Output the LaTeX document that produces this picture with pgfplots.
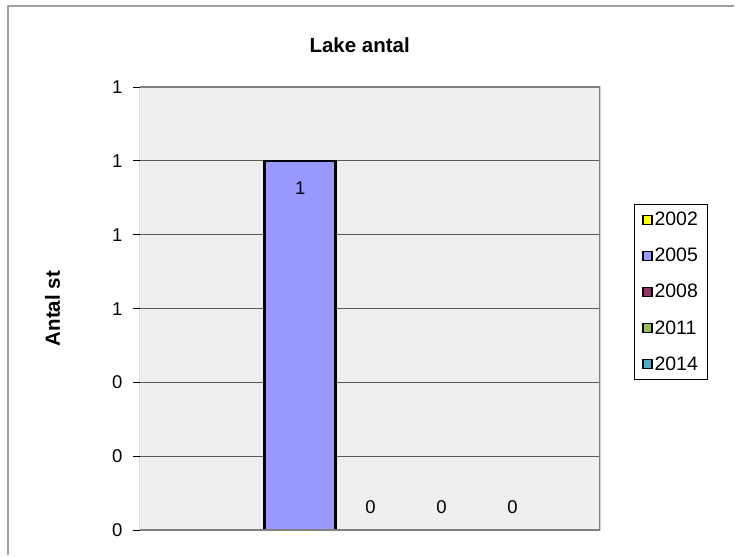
\documentclass[border=0pt]{standalone}
\usepackage{fontspec}
\setmainfont{Liberation Sans}
\usepackage{pgfplots}
\pgfplotsset{compat=1.18}
\definecolor{c2002}{HTML}{FFFF00}
\definecolor{c2005}{HTML}{9999FF}
\definecolor{c2008}{HTML}{993366}
\definecolor{c2011}{HTML}{9BBB59}
\definecolor{c2014}{HTML}{4BACC6}
\definecolor{plotbg}{HTML}{EFEFEF}
\definecolor{frame}{HTML}{A0A0A0}
\begin{document}
\begin{tikzpicture}[x=1pt,y=1pt]
\path[fill=white] (0,0) rectangle (735,556);
\draw[frame, line width=1.5pt] (8,0) -- (8,550) -- (735,550);
\node[font=\bfseries\fontsize{20.5}{24}\selectfont, anchor=base] at (360,503) {Lake antal};
\node[font=\bfseries\fontsize{20.5}{24}\selectfont, rotate=90] at (52.5,247) {Antal st};
\begin{axis}[
  at={(140pt,25pt)}, anchor=south west,
  scale only axis, width=461pt, height=444pt,
  xmin=140, xmax=601, ymin=0, ymax=1.2,
  ytick={0,0.2,0.4,0.6,0.8,1.0,1.2},
  yticklabels={0,0,0,1,1,1,1},
  xtick=\empty, ytick pos=left,
  /pgf/number format/assume math mode=true,
  ticklabel style={font=\fontsize{18.5}{21}\selectfont},
  yticklabel style={xshift=-7pt},
  tick align=outside, major tick length=7pt,
  tick style={black, line width=0.8pt},
  ymajorgrids, grid style={draw=black!65, line width=0.8pt},
  axis background/.style={fill=plotbg},
  axis line style={draw=none},
  legend image code/.code={\draw[#1,draw=black,line width=1.2pt] (0pt,-4.5pt) rectangle (9pt,4.5pt);},
  legend style={at={(1.2343,0.7365)}, anchor=north east, draw=black, line width=0.8pt,
    fill=white, font=\fontsize{19.5}{22}\selectfont, row sep=17pt, inner xsep=8pt, inner ysep=6pt,
    cells={anchor=west}},
]
\addlegendimage{fill=c2002}\addlegendentry{2002}
\addlegendimage{fill=c2005}\addlegendentry{2005}
\addlegendimage{fill=c2008}\addlegendentry{2008}
\addlegendimage{fill=c2011}\addlegendentry{2011}
\addlegendimage{fill=c2014}\addlegendentry{2014}
\addplot[forget plot, ybar, bar width=71, bar shift=0pt, fill=c2005, draw=black, line width=2.5pt,
  nodes near coords, every node near coord/.append style={anchor=center, yshift=-27pt, text=black, font=\fontsize{18.5}{21}\selectfont}]
  coordinates {(300.5,1)};
\addplot[forget plot, ybar, bar width=71, bar shift=0pt, fill=c2008, draw=none,
  nodes near coords, every node near coord/.append style={anchor=center, yshift=23pt, text=black, font=\fontsize{18.5}{21}\selectfont}]
  coordinates {(371,0)};
\addplot[forget plot, ybar, bar width=71, bar shift=0pt, fill=c2011, draw=none,
  nodes near coords, every node near coord/.append style={anchor=center, yshift=23pt, text=black, font=\fontsize{18.5}{21}\selectfont}]
  coordinates {(442,0)};
\addplot[forget plot, ybar, bar width=71, bar shift=0pt, fill=c2014, draw=none,
  nodes near coords, every node near coord/.append style={anchor=center, yshift=23pt, text=black, font=\fontsize{18.5}{21}\selectfont}]
  coordinates {(513,0)};
\draw[black!50, line width=2pt] (rel axis cs:0,0) -- (rel axis cs:1,0) -- (rel axis cs:1,1) -- (rel axis cs:0,1);
\draw[black, line width=1.2pt] (rel axis cs:0,0) -- (rel axis cs:0,1);
\end{axis}
\end{tikzpicture}
\end{document}
